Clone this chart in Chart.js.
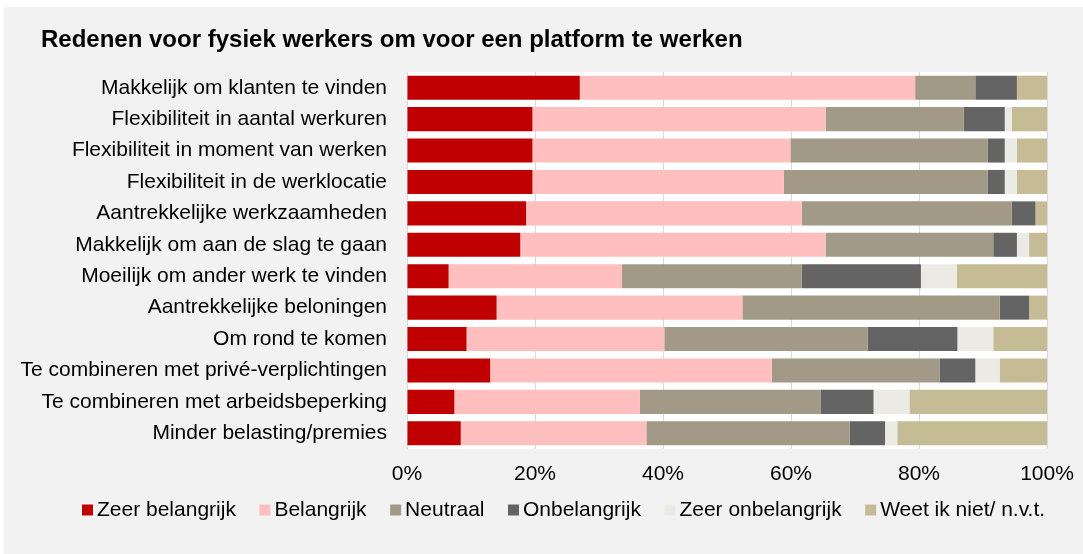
<!DOCTYPE html>
<html><head><meta charset="utf-8">
<script src="https://cdn.jsdelivr.net/npm/chart.js@4.4.1/dist/chart.umd.min.js"></script>
<style>html,body{margin:0;padding:0;background:#fff;overflow:hidden}</style>
</head><body>
<canvas id="c" width="1083" height="554"></canvas>
<script>
const titleText = 'Redenen voor fysiek werkers om voor een platform te werken';
const categories = [
  'Makkelijk om klanten te vinden',
  'Flexibiliteit in aantal werkuren',
  'Flexibiliteit in moment van werken',
  'Flexibiliteit in de werklocatie',
  'Aantrekkelijke werkzaamheden',
  'Makkelijk om aan de slag te gaan',
  'Moeilijk om ander werk te vinden',
  'Aantrekkelijke beloningen',
  'Om rond te komen',
  'Te combineren met privé-verplichtingen',
  'Te combineren met arbeidsbeperking',
  'Minder belasting/premies'
];
const seriesNames = ['Zeer belangrijk','Belangrijk','Neutraal','Onbelangrijk','Zeer onbelangrijk','Weet ik niet/ n.v.t.'];
const zeerBelangrijk   = [27.0, 19.6, 19.6, 19.6, 18.6, 17.7,  6.5, 14.0,  9.3, 13.0,  7.4,  8.4];
const belangrijk       = [52.4, 45.8, 40.3, 39.3, 43.1, 47.7, 27.1, 38.4, 30.9, 44.0, 29.0, 29.0];
const neutraal         = [ 9.4, 21.6, 30.8, 31.8, 32.8, 26.2, 28.1, 40.2, 31.8, 26.2, 28.2, 31.8];
const onbelangrijk     = [ 6.5,  6.4,  2.7,  2.7,  3.7,  3.7, 18.6,  4.6, 14.0,  5.6,  8.3,  5.5];
const zeerOnbelangrijk = [ 0.0,  1.1,  1.9,  1.9,  0.0,  1.9,  5.6,  0.0,  5.6,  3.8,  5.6,  1.9];
const weetNiet         = [ 4.7,  5.5,  4.7,  4.7,  1.8,  2.8, 14.1,  2.8,  8.4,  7.4, 21.5, 23.4];
const xTickValues = [0, 20, 40, 60, 80, 100];
const colors = ['#c00000','#ffbfbf','#a29a86','#646464','#ebeae5','#c5bc96'];

const FONT = '"Liberation Sans", Arial, sans-serif';
const seriesValues = [zeerBelangrijk, belangrijk, neutraal, onbelangrijk, zeerOnbelangrijk, weetNiet];

const bgPlugin = {
  id: 'bg',
  beforeDraw(chart) {
    const ctx = chart.ctx, a = chart.chartArea;
    ctx.save();
    ctx.fillStyle = '#f2f2f2';
    ctx.fillRect(4, 7, chart.width - 4, chart.height - 7);
    ctx.fillStyle = '#ffffff';
    ctx.fillRect(a.left, a.top, a.right - a.left, a.bottom - a.top);
    ctx.fillStyle = '#000';
    ctx.font = 'bold 24px ' + FONT;
    ctx.textBaseline = 'middle';
    ctx.textAlign = 'left';
    ctx.fillText(titleText, 41, 40);
    ctx.restore();
  },
  afterDraw(chart) {
    const ctx = chart.ctx;
    ctx.save();
    ctx.font = '21px ' + FONT;
    ctx.textBaseline = 'middle';
    ctx.textAlign = 'left';
    let x = 82;
    const y = 510;
    chart.data.datasets.forEach(ds => {
      ctx.fillStyle = ds.backgroundColor;
      ctx.fillRect(x, y - 5.5, 11, 11);
      x += 15;
      ctx.fillStyle = '#000';
      ctx.fillText(ds.label, x, y);
      x += ctx.measureText(ds.label).width + 23.5;
    });
    ctx.restore();
  }
};

new Chart(document.getElementById('c'), {
  type: 'bar',
  data: {
    labels: categories,
    datasets: seriesNames.map((name, i) => ({
      label: name,
      data: seriesValues[i],
      backgroundColor: colors[i],
      borderWidth: 0,
      barPercentage: 0.765,
      categoryPercentage: 1.0
    }))
  },
  options: {
    indexAxis: 'y',
    responsive: false,
    animation: false,
    devicePixelRatio: 1,
    layout: { padding: { left: 0, right: 36, top: 72, bottom: 65 } },
    plugins: { legend: { display: false }, title: { display: false }, tooltip: { enabled: false } },
    scales: {
      x: {
        stacked: true,
        min: 0, max: 100,
        afterBuildTicks(scale) { scale.ticks = xTickValues.map(v => ({ value: v })); },
        afterFit(scale) { scale.height = 40; scale.paddingLeft = 0; scale.paddingRight = 0; },
        ticks: { color: '#000', font: { family: FONT, size: 21 }, padding: 13, callback: v => v + '%', maxRotation: 0 },
        grid: { color: '#d9d9d9', lineWidth: 1, drawTicks: false },
        border: { display: false }
      },
      y: {
        stacked: true,
        afterFit(scale) { scale.width = 407; scale.paddingTop = 0; scale.paddingBottom = 0; },
        ticks: { color: '#000', font: { family: FONT, size: 21 }, padding: 20 },
        grid: { display: false, drawTicks: false },
        border: { display: false }
      }
    }
  },
  plugins: [bgPlugin]
});
</script>
</body></html>
